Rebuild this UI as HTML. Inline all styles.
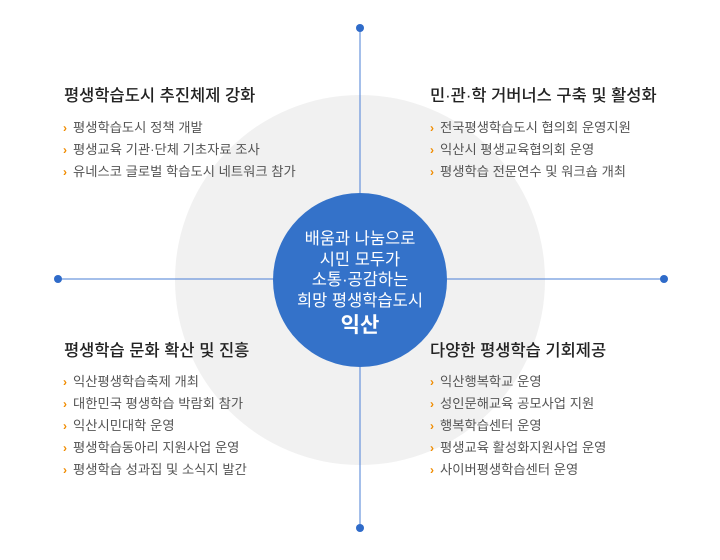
<!DOCTYPE html>
<html><head><meta charset="utf-8"><style>
body{margin:0;width:720px;height:560px;background:#fff;position:relative;overflow:hidden;font-family:"Liberation Sans","Noto Sans CJK KR",sans-serif}
svg{position:absolute;left:0;top:0}
.t{position:absolute;font-size:16.5px;color:#222;font-weight:500;white-space:nowrap;line-height:20px}
.l{position:absolute;font-size:13.3px;color:#555;white-space:nowrap;line-height:22px}
.l div:before{content:"›";color:#f08c00;font-weight:bold;margin-right:6px;font-size:12px}
.c{position:absolute;left:263px;top:229px;width:194px;text-align:center;color:#fff;font-size:16.5px;line-height:20.5px}
</style></head><body>
<svg width="720" height="560">
<circle cx="360" cy="280" r="185" fill="#f1f1f1"/>
<line x1="360" y1="28" x2="360" y2="528" stroke="#4a7fd6" stroke-width="1"/>
<line x1="58" y1="279" x2="664" y2="279" stroke="#4a7fd6" stroke-width="1"/>
<circle cx="360" cy="28" r="4" fill="#2f6bc9"/>
<circle cx="360" cy="528" r="4" fill="#2f6bc9"/>
<circle cx="58" cy="279" r="4" fill="#2f6bc9"/>
<circle cx="664" cy="279" r="4" fill="#2f6bc9"/>
<circle cx="360" cy="280" r="87" fill="#3472c9"/>
</svg>
<div class="t" style="left:64px;top:86px">평생학습도시 추진체제 강화</div>
<div class="l" style="left:63px;top:117px"><div>평생학습도시 정책 개발</div><div>평생교육 기관·단체 기초자료 조사</div><div>유네스코 글로벌 학습도시 네트워크 참가</div></div>
<div class="t" style="left:430px;top:86px">민·관·학 거버너스 구축 및 활성화</div>
<div class="l" style="left:430px;top:117px"><div>전국평생학습도시 협의회 운영지원</div><div>익산시 평생교육협의회 운영</div><div>평생학습 전문연수 및 워크숍 개최</div></div>
<div class="t" style="left:64px;top:341px">평생학습 문화 확산 및 진흥</div>
<div class="l" style="left:63px;top:371px"><div>익산평생학습축제 개최</div><div>대한민국 평생학습 박람회 참가</div><div>익산시민대학 운영</div><div>평생학습동아리 지원사업 운영</div><div>평생학습 성과집 및 소식지 발간</div></div>
<div class="t" style="left:430px;top:341px">다양한 평생학습 기회제공</div>
<div class="l" style="left:430px;top:371px"><div>익산행복학교 운영</div><div>성인문해교육 공모사업 지원</div><div>행복학습센터 운영</div><div>평생교육 활성화지원사업 운영</div><div>사이버평생학습센터 운영</div></div>
<div class="c">배움과 나눔으로<br>시민 모두가<br>소통·공감하는<br>희망 평생학습도시<br><b style="font-size:21px;line-height:30px">익산</b></div>
</body></html>
